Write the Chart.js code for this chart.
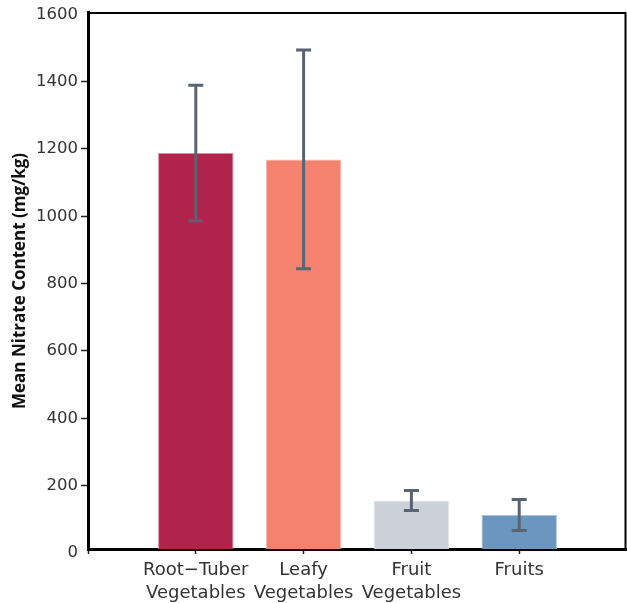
<!DOCTYPE html>
<html>
<head>
<meta charset="utf-8">
<script src="https://cdn.jsdelivr.net/npm/chart.js@4.4.1/dist/chart.umd.min.js"></script>
<style>
  html, body { margin: 0; padding: 0; background: #fff; }
  #wrap { width: 627px; height: 603px; }
</style>
</head>
<body>
<div id="wrap"><canvas id="nitrateChart" width="627" height="603"></canvas></div>
<script>
// padded with empty slots on each side so the axis runs from -1 to 4
const categories = ["", ["Root\u2212Tuber", "Vegetables"], ["Leafy", "Vegetables"], ["Fruit", "Vegetables"], "Fruits", ""];
const meanValues = [null, 1188, 1169, 156, 113, null];
const errorValues = [null, 201, 325, 30, 46, null];
const barColors = ["#000", "#B0234A", "#F5826F", "#CCD0D8", "#6B97BF", "#000"];
const barEdges = ["#000", "#D9899D", "#F9B3A6", "#E3E5EA", "#A8C2DA", "#000"];
const yTicks = [0, 200, 400, 600, 800, 1000, 1200, 1400, 1600];

const errorBars = {
  id: "errorBars",
  afterDatasetsDraw(chart) {
    const { ctx, scales } = chart;
    ctx.save();
    ctx.strokeStyle = "#5A6371";
    ctx.lineWidth = 3;
    meanValues.forEach((v, i) => {
      if (v == null) return;
      const x = scales.x.getPixelForValue(i);
      const top = scales.y.getPixelForValue(v + errorValues[i]);
      const bottom = scales.y.getPixelForValue(v - errorValues[i]);
      ctx.beginPath();
      ctx.moveTo(x, top); ctx.lineTo(x, bottom);
      ctx.moveTo(x - 7.5, top); ctx.lineTo(x + 7.5, top);
      ctx.moveTo(x - 7.5, bottom); ctx.lineTo(x + 7.5, bottom);
      ctx.stroke();
    });
    ctx.restore();
  },
};

// top and right edges of the frame (right one pulled in so it stays on the canvas)
const frame = {
  id: "frame",
  afterDraw(chart) {
    const { ctx, chartArea: a } = chart;
    const right = Math.min(a.right, chart.width - 1.5);
    ctx.save();
    ctx.strokeStyle = "#000";
    ctx.lineWidth = 2;
    ctx.beginPath();
    ctx.moveTo(a.left, a.top); ctx.lineTo(right, a.top); ctx.lineTo(right, a.bottom);
    ctx.stroke();
    ctx.restore();
  },
};

new Chart(document.querySelector("#nitrateChart"), {
  type: "bar",
  data: {
    labels: categories,
    datasets: [{
      data: meanValues,
      backgroundColor: barColors,
      borderColor: barEdges,
      borderWidth: 1,
      barPercentage: 0.7,
      categoryPercentage: 1,
    }],
  },
  options: {
    responsive: false,
    animation: false,
    layout: { padding: { top: 12, right: 0, left: 0, bottom: 0 } },
    plugins: { legend: { display: false }, tooltip: { enabled: false } },
    scales: {
      x: {
        offset: false,
        afterFit: (scale) => {
          scale.height = 54;
          scale.paddingLeft = 0;
          scale.paddingRight = 0;
        },
        grid: {
          offset: false,
          drawOnChartArea: false,
          tickLength: 5,
          tickWidth: 1.5,
          tickColor: (c) => (c.index === categories.length - 1 ? "transparent" : "#222"),
        },
        border: { color: "#000", width: 3 },
        ticks: {
          color: "#333",
          padding: 5,
          autoSkip: false,
          maxRotation: 0,
          font: { family: "DejaVu Sans", size: 18, lineHeight: 1.28 },
        },
      },
      y: {
        min: 12,
        max: 1604,
        afterBuildTicks: (scale) => { scale.ticks = yTicks.map((value) => ({ value })); },
        afterFit: (scale) => { scale.width = 88; },
        grid: {
          drawOnChartArea: false,
          tickLength: 7,
          tickWidth: 1.5,
          tickColor: (c) => (c.tick && (c.tick.value === 0 || c.tick.value === 1600) ? "transparent" : "#222"),
        },
        border: { color: "#000", width: 3 },
        ticks: {
          color: "#333",
          padding: 3,
          callback: (value) => String(value),
          font: { family: "DejaVu Sans", size: 16.5 },
        },
        title: {
          display: true,
          text: "Mean Nitrate Content (mg/kg)",
          color: "#111",
          padding: { top: 10, bottom: 0 },
          font: { family: "Open Sans", size: 17, weight: "bold" },
        },
      },
    },
  },
  plugins: [errorBars, frame],
});
</script>
</body>
</html>
